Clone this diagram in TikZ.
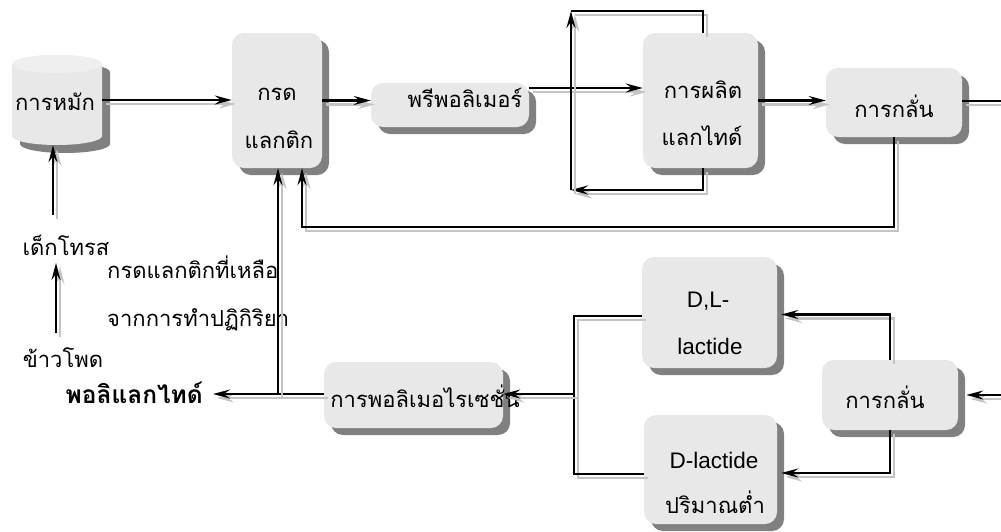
\documentclass[tikz,border=0pt]{standalone}
\usepackage{fontspec}
\newfontfamily\thai[Script=Thai]{Loma}
\newfontfamily\lat{Liberation Sans}
\usetikzlibrary{arrows.meta,shadows,calc}
\definecolor{boxfill}{HTML}{E8E8E8}
\definecolor{boxshadow}{HTML}{808080}
\definecolor{lineshadow}{HTML}{C4C4C4}
\definecolor{cyltop}{HTML}{EFEFEF}
\begin{document}
\begin{tikzpicture}[x=1pt,y=1pt,
  box/.style={rectangle, rounded corners=12pt, fill=boxfill, draw=none, inner sep=0pt,
    drop shadow={shadow xshift=7pt, shadow yshift=-7pt, fill=boxshadow, opacity=1}},
  txt/.style={font=\thai\fontsize{22}{26}\selectfont, inner sep=0pt},
  ltxt/.style={font=\lat\fontsize{22.5}{26}\selectfont, inner sep=0pt},
  conn/.style={line width=2.2pt, draw=black,
    preaction={draw=lineshadow, line width=2.6pt, transform canvas={shift={(4pt,-4pt)}}}},
  tip/.style={-{Stealth[length=17pt,width=9pt,inset=6pt]}}]
\useasboundingbox (0,0) rectangle (1001,-531);

% fermentation cylinder
\begin{scope}[shift={(8,-8)}]
\fill[boxshadow] (12,-64) -- (12,-136) arc[start angle=180,end angle=360,x radius=45pt,y radius=9pt] -- (102,-64) arc[start angle=0,end angle=180,x radius=45pt,y radius=9pt] -- cycle;
\end{scope}
\fill[boxfill] (12,-64) -- (12,-136) arc[start angle=180,end angle=360,x radius=45pt,y radius=9pt] -- (102,-64) arc[start angle=0,end angle=180,x radius=45pt,y radius=9pt] -- cycle;
\fill[cyltop] (57,-64) ellipse[x radius=45pt,y radius=9pt];
\node[minimum width=90pt, minimum height=90pt, inner sep=0pt] (ferm) at (57,-100) {};
\node[txt,anchor=base] (ferm-t) at (55,-110) {การหมัก};

% boxes
\node[box, minimum width=90pt, minimum height=135pt] (lactic) at (277,-100.5) {};
\node[txt, anchor=base] (lactic-1) at (277,-100) {กรด};
\node[txt, anchor=base] (lactic-2) at (279,-148) {แลกติก};

\node[box, minimum width=158pt, minimum height=44pt] (prepoly) at (450,-105) {};
\node[txt, anchor=base] (prepoly-t) at (465,-107) {พรีพอลิเมอร์};

\node[box, minimum width=115pt, minimum height=135pt] (lacprod) at (700.5,-100.5) {};
\node[txt,anchor=base] (lacprod-1) at (703,-98) {การผลิต};
\node[txt,anchor=base] (lacprod-2) at (702,-145) {แลกไทด์};

\node[box, minimum width=136pt, minimum height=69pt] (dist1) at (894,-102.5) {};
\node[txt,anchor=base] (dist1-t) at (894,-117) {การกลั่น};

\node[box, minimum width=179pt, minimum height=66pt] (poly) at (413.5,-395) {};
\node[txt,anchor=base] (poly-t) at (425,-407) {การพอลิเมอไรเซชั่น};

\node[box, minimum width=135pt, minimum height=111pt] (dl) at (709.5,-312.5) {};
\node[ltxt,anchor=base] (dl-1) at (708,-307) {D,L-};
\node[ltxt,anchor=base] (dl-2) at (710,-354) {lactide};

\node[box, minimum width=133pt, minimum height=109pt] (dlow) at (710.5,-469.5) {};
\node[ltxt,anchor=base] (dlow-1) at (714,-468) {D-lactide};
\node[txt,anchor=base] (dlow-2) at (715,-513) {ปริมาณต่ำ};

\node[box, minimum width=136pt, minimum height=70pt] (dist2) at (890,-395) {};
\node[txt,anchor=base] (dist2-t) at (885,-408) {การกลั่น};

% free labels
\node[txt,anchor=base] (dext) at (66,-255) {เด็กโทรส};
\node[txt,anchor=base] (corn) at (63,-367) {ข้าวโพด};
\node[txt,anchor=base west] (rem1) at (107,-278) {กรดแลกติกที่เหลือ};
\node[txt,anchor=base west] (rem2) at (107,-326) {จากการทำปฏิกิริยา};
\node[txt,anchor=base east,font=\thai\bfseries\fontsize{24.5}{28}\selectfont] (pla) at (203,-403) {พอลิแลกไทด์};

% coordinates
\coordinate (fermin) at (53,-215);
\coordinate (cornup) at (56,-333);
\coordinate (dextdn) at (56,-263);
\coordinate (lpBL) at (571,-190);
\coordinate (lpTL) at (571,-11);
\coordinate (outR) at (1001,-101);
\coordinate (ret) at (302,-227);
\coordinate (inR) at (1001,-395);
\coordinate (d2in) at ([xshift=8pt]dist2.east);
\coordinate (brT) at (574,-316);
\coordinate (brB) at (574,-474);
\coordinate (brM) at (574,-394);
\coordinate (j1) at (278,-394);
\coordinate (plaend) at ([xshift=10pt]pla.east);

% connectors
\draw[conn,tip] (fermin) -- (ferm.south -| fermin);
\draw[conn,tip] (cornup) -- (dextdn);
\draw[conn,tip] (ferm.east) -- (ferm.east -| lactic.west);
\draw[conn,tip] (lactic.east) -- (lactic.east -| prepoly.west);
\draw[conn,tip] (prepoly.east |- 0,-88) -- (lacprod.west |- 0,-88);
\draw[conn,tip] ([xshift=2.5pt]lacprod.south) |- (lpBL);
\draw[conn,tip] (lpBL) -- (lpTL);
\draw[conn] (lpTL) -| ([xshift=2.5pt]lacprod.north);
\draw[conn,tip] (lacprod.east) -- (lacprod.east -| dist1.west);
\draw[conn] (dist1.east |- outR) -- (outR);
\draw[conn,tip] (dist1.south) |- (ret) -- (ret |- lactic.south);

\draw[conn,tip] (inR) -- (d2in);
\draw[conn,tip] (dist2.north) |- ([xshift=4pt,yshift=-2pt]dl.east);
\draw[conn,tip] (dist2.south) |- ([xshift=4pt,yshift=-3.5pt]dlow.east);
\draw[conn] (dl.west |- brT) -- (brT) -- (brB) -- (dlow.west |- brB);
\draw[conn,tip] (brM) -- (poly.east |- brM);
\draw[conn,tip] (poly.west |- j1) -- (plaend |- j1);
\draw[conn,tip] (j1) -- (j1 |- lactic.south);
\end{tikzpicture}
\end{document}
